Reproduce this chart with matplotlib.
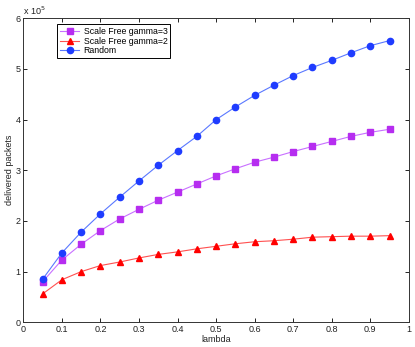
import matplotlib
matplotlib.use('Agg')
import matplotlib.pyplot as plt

plt.rcParams['font.family'] = ['Liberation Sans', 'DejaVu Sans']

lam = [0.05, 0.1, 0.15, 0.2, 0.25, 0.3, 0.35, 0.4, 0.45, 0.5,
       0.55, 0.6, 0.65, 0.7, 0.75, 0.8, 0.85, 0.9, 0.95]
# values in units of 1e5 delivered packets
sf3 = [0.80, 1.23, 1.54, 1.81, 2.04, 2.23, 2.41, 2.57, 2.73, 2.89,
       3.03, 3.16, 3.26, 3.37, 3.47, 3.57, 3.67, 3.75, 3.81]
sf2 = [0.56, 0.84, 1.00, 1.12, 1.19, 1.27, 1.34, 1.39, 1.45, 1.50,
       1.55, 1.59, 1.61, 1.64, 1.68, 1.69, 1.70, 1.70, 1.71]
rnd = [0.85, 1.37, 1.78, 2.14, 2.47, 2.79, 3.10, 3.39, 3.67, 4.00,
       4.25, 4.48, 4.68, 4.87, 5.03, 5.17, 5.32, 5.46, 5.56]

fig = plt.figure(figsize=(4.15, 3.47), dpi=100)
ax = fig.add_axes([0.0562, 0.0712, 0.929, 0.876])

ax.plot(lam, sf3, color='#c870ff', lw=0.8, marker='s', ms=4,
        mfc='#b62df0', mec='#b62df0', label='Scale Free gamma=3')
ax.plot(lam, sf2, color='#ff5050', lw=0.8, marker='^', ms=5,
        mfc='#ff0000', mec='#ff0000', label='Scale Free gamma=2')
ax.plot(lam, rnd, color='#5a78ff', lw=0.8, marker='o', ms=4.5,
        mfc='#1f3cff', mec='#1f3cff', label='Random')

ax.set_xlim(0, 1)
ax.set_ylim(0, 6)
ax.set_xticks([0, 0.1, 0.2, 0.3, 0.4, 0.5, 0.6, 0.7, 0.8, 0.9, 1])
ax.set_xticklabels(['0', '0.1', '0.2', '0.3', '0.4', '0.5', '0.6', '0.7', '0.8', '0.9', '1'])
ax.set_yticks([0, 1, 2, 3, 4, 5, 6])
ax.tick_params(direction='in', top=True, right=True, labelsize=6.5,
               length=3, width=0.6, pad=2, labelcolor='#222222')
for s in ax.spines.values():
    s.set_linewidth(0.7)
    s.set_color('#333333')

ax.set_xlabel('lambda', fontsize=6.5, labelpad=1, color='#222222')
ax.set_ylabel('delivered packets', fontsize=6.5, labelpad=1, color='#222222')
ax.text(0.0, 1.005, r'x 10$^5$', transform=ax.transAxes, fontsize=6.5,
        ha='left', va='bottom', color='#222222')

leg = ax.legend(loc='upper left', bbox_to_anchor=(0.088, 0.981), fontsize=6.3,
                fancybox=False, framealpha=1, edgecolor='black',
                borderpad=0.3, labelspacing=0.1, handlelength=2.2,
                handletextpad=0.5, borderaxespad=0)
leg.get_frame().set_linewidth(0.7)

fig.savefig('out.png', dpi=100)
